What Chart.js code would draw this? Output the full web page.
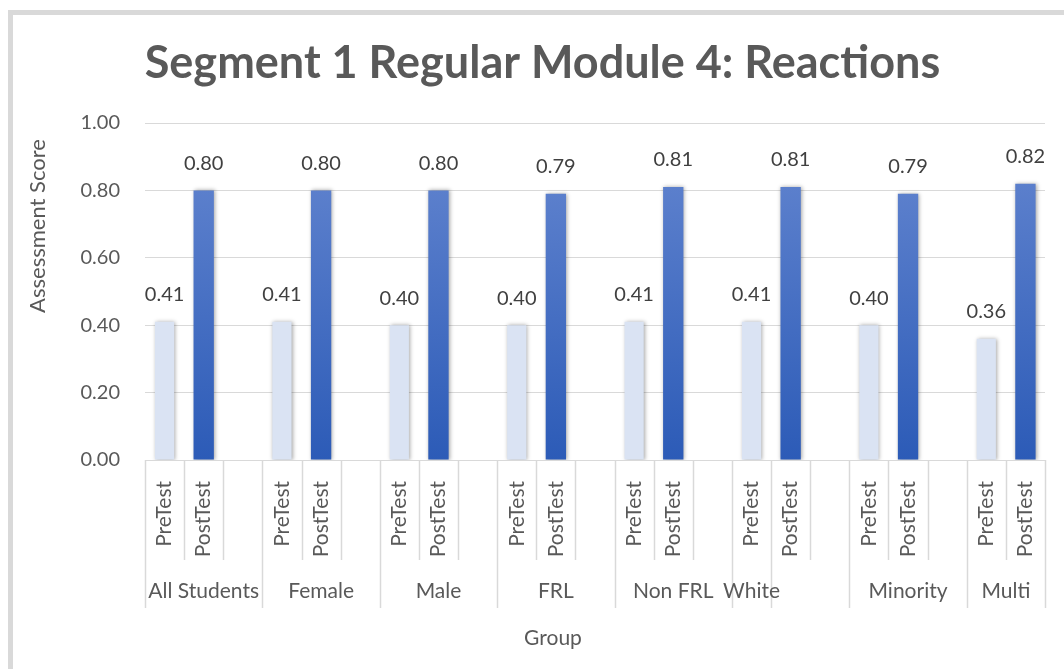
<!DOCTYPE html>
<html lang="en">
<head>
    <meta charset="UTF-8">
    <title>Segment 1 Regular Module 4: Reactions</title>
    <script src="https://cdn.jsdelivr.net/npm/chart.js@4.4.0/dist/chart.umd.min.js"></script>
    <style>
        html, body { margin: 0; padding: 0; background: #fff; }
        .wrap { position: relative; width: 1064px; height: 669px; overflow: hidden; }
        .frame { position: absolute; left: 8px; top: 10px; width: 1100px; height: 700px;
                 border-left: 5px solid #d9d9d9; border-top: 5px solid #d9d9d9; box-sizing: border-box; }
        canvas { position: absolute; left: 0; top: 0; }
    </style>
</head>
<body>
    <div class="wrap">
        <div class="frame"></div>
        <canvas id="myChart" width="1064" height="669"></canvas>
    </div>
    <script>
        var groups = ['All Students', 'Female', 'Male', 'FRL', 'Non FRL', 'White', 'Minority', 'Multi'];
        var preTest = [0.41, 0.41, 0.40, 0.40, 0.41, 0.41, 0.40, 0.36];
        var postTest = [0.80, 0.80, 0.80, 0.79, 0.81, 0.81, 0.79, 0.82];
        var testLabels = ['PreTest', 'PostTest'];
        // outer axis row as the spreadsheet laid it out (White sits in a single cell)
        var axisGroups = ['All Students', 'Female', 'Male', 'FRL', 'Non FRL', 'White', '', 'Minority', 'Multi'];
        var axisSpans = [3, 3, 3, 3, 3, 1, 2, 3, 2];
        var yTicks = [0, 0.2, 0.4, 0.6, 0.8, 1.0];

        var FONT = 'Lato, "Open Sans", sans-serif';
        var GREY = '#595959';

        // one slot per bar, with an empty slot between groups
        var slotLabels = [], preData = [], postData = [];
        for (var i = 0; i < groups.length; i++) {
            slotLabels.push(testLabels[0], testLabels[1]);
            preData.push(preTest[i], null);
            postData.push(null, postTest[i]);
            if (i < groups.length - 1) {
                slotLabels.push('');
                preData.push(null);
                postData.push(null);
            }
        }

        function postFill(context) {
            var chart = context.chart;
            var area = chart.chartArea;
            if (!area) return '#3a66c0';
            var v = context.raw;
            var yScale = chart.scales.y;
            var top = yScale.getPixelForValue(v == null ? 1 : v);
            var g = chart.ctx.createLinearGradient(0, top, 0, area.bottom);
            g.addColorStop(0, '#5b7fcc');
            g.addColorStop(1, '#2c5bb7');
            return g;
        }

        var barShadow = {
            id: 'barShadow',
            beforeDatasetsDraw: function (chart) {
                var ctx = chart.ctx;
                ctx.save();
                ctx.shadowColor = 'rgba(0,0,0,0.35)';
                ctx.shadowBlur = 4;
                ctx.shadowOffsetX = 1;
            },
            afterDatasetsDraw: function (chart) {
                chart.ctx.restore();
            }
        };

        var valueLabels = {
            id: 'valueLabels',
            afterDatasetsDraw: function (chart) {
                var ctx = chart.ctx;
                ctx.save();
                ctx.font = '20px ' + FONT;
                ctx.fillStyle = '#404040';
                ctx.textAlign = 'center';
                ctx.textBaseline = 'middle';
                chart.data.datasets.forEach(function (ds, di) {
                    chart.getDatasetMeta(di).data.forEach(function (bar, k) {
                        var v = ds.data[k];
                        if (v == null) return;
                        ctx.fillText(v.toFixed(2), bar.x, bar.y - 27);
                    });
                });
                ctx.restore();
            }
        };

        var groupAxis = {
            id: 'groupAxis',
            afterDraw: function (chart) {
                var ctx = chart.ctx;
                var x = chart.scales.x;
                var base = chart.chartArea.bottom;
                var w = x.getPixelForValue(1) - x.getPixelForValue(0);
                var start = x.getPixelForValue(0) - w / 2;

                var longAt = {};
                var edges = [0];
                var acc = 0;
                longAt[0] = true;
                axisSpans.forEach(function (s) { acc += s; longAt[acc] = true; edges.push(acc); });

                ctx.save();
                ctx.strokeStyle = '#d9d9d9';
                ctx.lineWidth = 1.5;
                for (var i = 0; i <= slotLabels.length; i++) {
                    var px = Math.round(start + i * w) + 0.5;
                    ctx.beginPath();
                    ctx.moveTo(px, base);
                    ctx.lineTo(px, longAt[i] ? 608 : 560);
                    ctx.stroke();
                }

                ctx.fillStyle = GREY;
                ctx.font = '21px ' + FONT;
                ctx.textAlign = 'center';
                ctx.textBaseline = 'middle';
                for (var g = 0; g < axisGroups.length; g++) {
                    var cx = start + (edges[g] + edges[g + 1]) / 2 * w;
                    ctx.fillText(axisGroups[g], cx, 591);
                }

                ctx.font = '21px ' + FONT;
                ctx.fillText('Group', 553, 638);

                ctx.translate(38, 226);
                ctx.rotate(-Math.PI / 2);
                ctx.font = '22px ' + FONT;
                ctx.fillText('Assessment Score', 0, 0);
                ctx.restore();
            }
        };

        var ctx = document.getElementById('myChart').getContext('2d');
        var myChart = new Chart(ctx, {
            type: 'bar',
            data: {
                labels: slotLabels,
                datasets: [
                    {
                        label: 'PreTest',
                        data: preData,
                        backgroundColor: '#dae3f3',
                        barPercentage: 0.49,
                        categoryPercentage: 1
                    },
                    {
                        label: 'PostTest',
                        data: postData,
                        backgroundColor: postFill,
                        barPercentage: 0.52,
                        categoryPercentage: 1
                    }
                ]
            },
            options: {
                responsive: false,
                animation: false,
                layout: { padding: { left: 38, right: 17, top: 0, bottom: 0 } },
                datasets: { bar: { grouped: false, skipNull: true } },
                plugins: {
                    legend: { display: false },
                    tooltip: { enabled: false },
                    title: {
                        display: true,
                        text: 'Segment 1 Regular Module 4: Reactions',
                        color: GREY,
                        font: { family: FONT, size: 45, weight: 'bold' },
                        padding: { top: 36, bottom: 33 }
                    }
                },
                scales: {
                    x: {
                        grid: { display: false },
                        border: { display: false },
                        ticks: {
                            color: GREY,
                            font: { family: FONT, size: 21 },
                            minRotation: 90,
                            maxRotation: 90,
                            autoSkip: false,
                            padding: 13
                        },
                        afterFit: function (scale) { scale.height = 209; }
                    },
                    y: {
                        min: 0,
                        max: 1,
                        grid: { color: '#d9d9d9', drawTicks: false },
                        border: { display: false },
                        afterBuildTicks: function (scale) {
                            scale.ticks = yTicks.map(function (v) { return { value: v }; });
                        },
                        ticks: {
                            color: GREY,
                            font: { family: FONT, size: 20 },
                            padding: 25,
                            callback: function (v) { return Number(v).toFixed(2); }
                        },
                        afterFit: function (scale) { scale.width = 107; }
                    }
                }
            },
            plugins: [barShadow, valueLabels, groupAxis]
        });
    </script>
</body>
</html>
